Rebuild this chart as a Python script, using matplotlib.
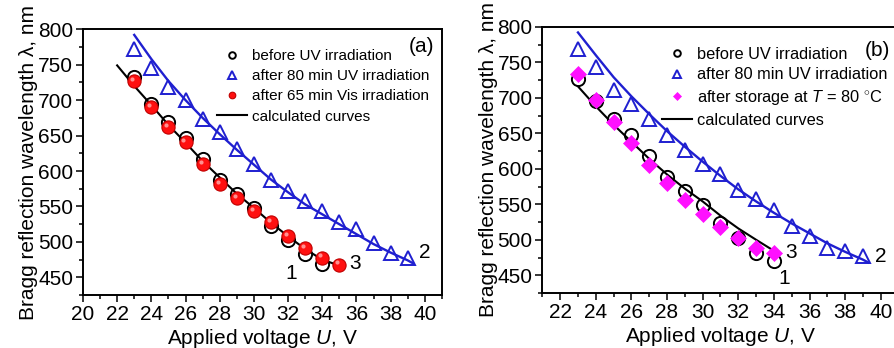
import numpy as np
import matplotlib
matplotlib.use("Agg")
import matplotlib.pyplot as plt
from matplotlib.ticker import MultipleLocator

plt.rcParams['font.family'] = ['Liberation Sans', 'DejaVu Sans']
plt.rcParams['mathtext.fontset'] = 'custom'
plt.rcParams['mathtext.it'] = 'Liberation Sans:italic'
plt.rcParams['mathtext.rm'] = 'Liberation Sans'

# =========================
# data, panel (a)
# =========================
a_x_before = [23, 24, 25, 26, 27, 28, 29, 30, 31, 32, 33, 34]
a_before = [732, 695, 669, 647, 617, 588, 568, 548, 522, 503, 483, 469]

a_x_uv = [23, 24, 25, 26, 27, 28, 29, 30, 31, 32, 33, 34, 35, 36, 37, 38, 39]
a_uv = [772, 745, 718, 700, 674, 655, 631, 610, 587, 572, 558, 543, 528, 518, 499, 485, 477]

a_x_vis = [23, 24, 25, 26, 27, 28, 29, 30, 31, 32, 33, 34, 35]
a_vis = [727, 690, 662, 641, 610, 582, 562, 543, 528, 508, 491, 478, 468]

a_x_calc1 = [22, 23, 24, 25, 26, 27, 28, 29, 30, 31, 32, 33, 34, 34.6]
a_calc1 = [749, 720, 693, 665, 640, 614, 591, 568, 548, 527, 508, 490, 475, 470]

a_x_calc2 = [23, 24, 25, 26, 27, 28, 29, 30, 31, 32, 33, 34, 35, 36, 37, 38, 39, 39.3]
a_calc2 = [792, 758, 727, 700, 675, 652, 630, 609, 588, 570, 553, 539, 525, 511, 497, 485, 474, 470]

# =========================
# data, panel (b)
# =========================
b_x_before = [23, 24, 25, 26, 27, 28, 29, 30, 31, 32, 33, 34]
b_before = [726, 696, 670, 647, 618, 588, 568, 549, 524, 503, 482, 470]

b_x_uv = [23, 24, 25, 26, 27, 28, 29, 30, 31, 32, 33, 34, 35, 36, 37, 38, 39]
b_uv = [769, 743, 711, 691, 670, 648, 626, 607, 592, 570, 557, 542, 520, 506, 489, 484, 477]

b_x_store = [23, 24, 25, 26, 27, 28, 29, 30, 31, 32, 33, 34]
b_store = [733, 697, 666, 637, 606, 580, 556, 536, 518, 502, 489, 482]

b_x_calc1 = [23, 24, 25, 26, 27, 28, 29, 30, 31, 32, 33, 33.9]
b_calc1 = [716, 688, 662, 638, 614, 592, 572, 554, 534, 516, 500, 486]

b_x_calc2 = [23, 24, 25, 26, 27, 28, 29, 30, 31, 32, 33, 34, 35, 36, 37, 38, 39, 39.3]
b_calc2 = [792, 760, 729, 702, 677, 653, 631, 610, 590, 571, 554, 538, 523, 509, 495, 483, 472, 468]

BLUE = "#1f1fd0"
RED = "#ff1010"
MAGENTA = "#ff10ff"

fig = plt.figure(figsize=(8.95, 3.48), dpi=100)
ax_a = fig.add_axes([0.0927, 0.152, 0.401, 0.764])
ax_b = fig.add_axes([0.606, 0.158, 0.398, 0.765])


def style_axes(ax, xlim, xmaj):
    ax.set_xlim(*xlim)
    ax.set_ylim(425, 800)
    ax.xaxis.set_minor_locator(MultipleLocator(1))
    ax.yaxis.set_major_locator(MultipleLocator(50))
    ax.yaxis.set_minor_locator(MultipleLocator(25))
    ax.set_xticks(xmaj)
    ax.tick_params(which="both", direction="out", top=False, right=False,
                   labelsize=15, width=1.1, pad=2)
    ax.tick_params(which="major", length=5)
    ax.tick_params(which="minor", length=3)
    for s in ax.spines.values():
        s.set_linewidth(1.4)
    ax.set_xlabel("Applied voltage $\\mathit{U}$, V", fontsize=15, labelpad=2)
    ax.set_ylabel("Bragg reflection wavelength \u03bb, nm", fontsize=15, labelpad=0)


# ---- panel (a)
ax = ax_a
ax.plot(a_x_calc1, a_calc1, "k-", lw=1.5, label="calculated curves", zorder=2)
ax.plot(a_x_calc2, a_calc2, "-", color=BLUE, lw=1.7, zorder=2)
ax.plot(a_x_before, a_before, "o", ms=9.5, mfc="none", mec="black", mew=1.4,
        label="before UV irradiation", zorder=3)
ax.plot(a_x_uv, a_uv, "^", ms=10.5, mfc="none", mec=BLUE, mew=1.4,
        label="after 80 min UV irradiation", zorder=3)
ax.plot(a_x_vis, a_vis, "o", ms=9.5, mfc=RED, mec="#c00000", mew=0.8,
        label="after 65 min Vis irradiation", zorder=4)
ax.plot(np.array(a_x_vis) - 0.12, np.array(a_vis) + 3, "o", ms=3,
        mfc="#ff9090", mec="none", zorder=5)
style_axes(ax, (20, 41), range(20, 41, 2))
h, l = ax.get_legend_handles_labels()
order = [1, 2, 3, 0]
ax.legend([h[i] for i in order], [l[i] for i in order], loc="upper left",
          bbox_to_anchor=(0.373, 0.925), frameon=False, fontsize=11,
          markerscale=0.5, handlelength=2.0, handletextpad=0.3,
          labelspacing=0.4, borderaxespad=0, borderpad=0)
ax.text(39.8, 775, "(a)", fontsize=15, ha="center", va="center")
ax.text(32.2, 456, "1", fontsize=15, ha="center", va="center")
ax.text(35.9, 469, "3", fontsize=15, ha="center", va="center")
ax.text(40.0, 485, "2", fontsize=15, ha="center", va="center")

# ---- panel (b)
ax = ax_b
ax.plot(b_x_calc1, b_calc1, "k-", lw=1.5, label="calculated curves", zorder=2)
ax.plot(b_x_calc2, b_calc2, "-", color=BLUE, lw=1.7, zorder=2)
ax.plot(b_x_before, b_before, "o", ms=9.5, mfc="none", mec="black", mew=1.4,
        label="before UV irradiation", zorder=3)
ax.plot(b_x_uv, b_uv, "^", ms=10.5, mfc="none", mec=BLUE, mew=1.4,
        label="after 80 min UV irradiation", zorder=3)
ax.plot(b_x_store, b_store, "D", ms=8.5, mfc=MAGENTA, mec=MAGENTA, mew=0.5,
        label="after storage at $\\mathit{T}$ = 80 $^{\\circ}$C", zorder=4)
style_axes(ax, (21, 41), range(22, 41, 2))
h, l = ax.get_legend_handles_labels()
ax.legend([h[i] for i in order], [l[i] for i in order], loc="upper left",
          bbox_to_anchor=(0.337, 0.925), frameon=False, fontsize=11.8,
          markerscale=0.5, handlelength=1.8, handletextpad=0.3,
          labelspacing=0.35, borderaxespad=0, borderpad=0)
ax.text(39.8, 767, "(b)", fontsize=15, ha="center", va="center")
ax.text(34.95, 482, "3", fontsize=15, ha="center", va="center")
ax.text(34.6, 446, "1", fontsize=15, ha="center", va="center")
ax.text(40.0, 477, "2", fontsize=15, ha="center", va="center")

fig.savefig("out.png", dpi=100)
